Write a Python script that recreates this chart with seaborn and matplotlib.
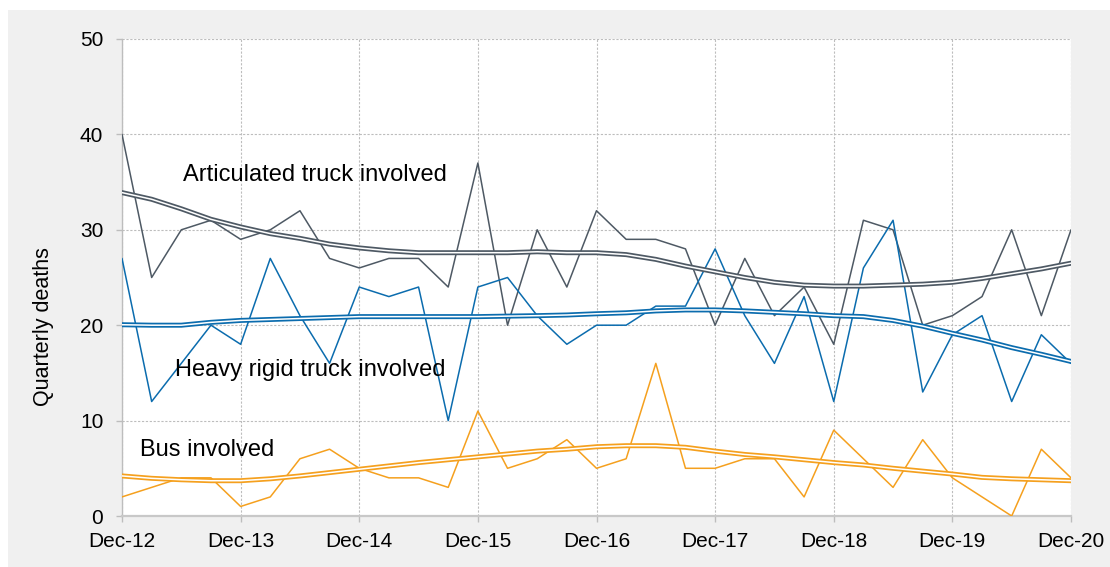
import matplotlib
matplotlib.use("Agg")
import numpy as np
import pandas as pd
import matplotlib.pyplot as plt
import matplotlib.patheffects as pe
from matplotlib.patches import Rectangle
import seaborn as sns

sns.set_style("white")
plt.rcParams['font.family'] = ['Liberation Sans', 'DejaVu Sans']
plt.rcParams['text.color'] = 'black'
plt.rcParams['axes.labelcolor'] = 'black'
plt.rcParams['xtick.labelcolor'] = 'black'
plt.rcParams['ytick.labelcolor'] = 'black'

# quarterly data, Dec-12 .. Dec-20
year_labels = ['Dec-12', 'Dec-13', 'Dec-14', 'Dec-15', 'Dec-16',
               'Dec-17', 'Dec-18', 'Dec-19', 'Dec-20']
quarter = list(range(33))

articulated = [40, 25, 30, 31, 29, 30, 32, 27, 26, 27, 27, 24, 37, 20, 30, 24, 32,
               29, 29, 28, 20, 27, 21, 24, 18, 31, 30, 20, 21, 23, 30, 21, 30]
heavy_rigid = [27, 12, 16, 20, 18, 27, 21, 16, 24, 23, 24, 10, 24, 25, 21, 18, 20,
               20, 22, 22, 28, 21, 16, 23, 12, 26, 31, 13, 19, 21, 12, 19, 16]
bus = [2, 3, 4, 4, 1, 2, 6, 7, 5, 4, 4, 3, 11, 5, 6, 8, 5,
       6, 16, 5, 5, 6, 6, 2, 9, 6, 3, 8, 4, 2, 0, 7, 4]

articulated_trend = [33.9, 33.2, 32.2, 31.1, 30.3, 29.6, 29.1, 28.5, 28.1, 27.8, 27.6,
                     27.6, 27.6, 27.6, 27.7, 27.6, 27.6, 27.4, 26.9, 26.2, 25.6, 25.0,
                     24.5, 24.2, 24.1, 24.1, 24.2, 24.3, 24.5, 24.9, 25.4, 25.9, 26.5]
heavy_rigid_trend = [20.05, 20.0, 20.0, 20.3, 20.5, 20.6, 20.7, 20.8, 20.9, 20.9, 20.9,
                     20.9, 20.9, 20.95, 21.0, 21.07, 21.2, 21.3, 21.5, 21.6, 21.6, 21.5,
                     21.35, 21.2, 21.0, 20.9, 20.5, 19.9, 19.15, 18.45, 17.65, 16.95, 16.2]
bus_trend = [4.2, 3.95, 3.8, 3.7, 3.7, 3.9, 4.2, 4.55, 4.9, 5.25, 5.6, 5.9, 6.2, 6.5,
             6.8, 7.0, 7.26, 7.37, 7.37, 7.2, 6.8, 6.45, 6.2, 5.9, 5.6, 5.35, 5.0,
             4.7, 4.4, 4.05, 3.9, 3.8, 3.7]

df = pd.DataFrame({'quarter': quarter,
                   'articulated': articulated, 'heavy': heavy_rigid, 'bus': bus,
                   'articulated_trend': articulated_trend,
                   'heavy_trend': heavy_rigid_trend, 'bus_trend': bus_trend})

grey_c = '#4e5964'
blue_c = '#0b6cae'
orange_c = '#f5a01e'

fig = plt.figure(figsize=(11.1, 5.67), dpi=100, facecolor='white')
fig.patches.append(Rectangle((8 / 1110, 0), 1, 1 - 10 / 567, transform=fig.transFigure,
                             facecolor='#f0f0f0', edgecolor='none', zorder=-10))
ax = fig.add_axes([122 / 1110, 1 - 516 / 567, (1071 - 122) / 1110, (516 - 39) / 567])
ax.set_facecolor('white')

# raw series
for col, c in [('articulated', grey_c), ('heavy', blue_c), ('bus', orange_c)]:
    sns.lineplot(data=df, x='quarter', y=col, color=c, lw=1.1, ax=ax, zorder=3)

# trend lines as double lines
for col, c in [('articulated_trend', grey_c), ('heavy_trend', blue_c), ('bus_trend', orange_c)]:
    sns.lineplot(data=df, x='quarter', y=col, color='white', lw=1.1, ax=ax, zorder=4,
                 path_effects=[pe.Stroke(linewidth=3.6, foreground=c), pe.Normal()])

ax.set_xlim(0, 32)
ax.set_ylim(0, 50)
ax.set_xticks(range(0, 33, 4))
ax.set_xticklabels(year_labels)
ax.set_yticks(range(0, 51, 10))
ax.set_xlabel('')
ax.set_ylabel('Quarterly deaths', fontsize=15.5, color='black')
ax.yaxis.set_label_coords((54 - 122) / 949, (516 - 327) / 477)

ax.grid(True, color='#bdbdbd', linestyle=(0, (2, 1.5)), lw=0.8)
for s in ['top', 'right']:
    ax.spines[s].set_visible(False)
ax.spines['left'].set_color('#bdbdbd')
ax.spines['left'].set_linewidth(1.0)
ax.spines['bottom'].set_color('#c8c8c8')
ax.spines['bottom'].set_linewidth(1.6)
ax.tick_params(axis='y', length=4.5, width=1, color='#bdbdbd', labelsize=15, pad=9,
               labelcolor='black')
ax.tick_params(axis='x', length=4.5, width=1, color='#bdbdbd', labelsize=15, pad=7,
               labelcolor='black')
ax.tick_params(left=True, bottom=True)

ax.text(2.06, 35.7, 'Articulated truck involved', fontsize=17, va='center', ha='left', color='black')
ax.text(1.79, 15.3, 'Heavy rigid truck involved', fontsize=17, va='center', ha='left', color='black')
ax.text(0.61, 6.9, 'Bus involved', fontsize=17, va='center', ha='left', color='black')

fig.savefig('out.png', dpi=100, facecolor=fig.get_facecolor())
